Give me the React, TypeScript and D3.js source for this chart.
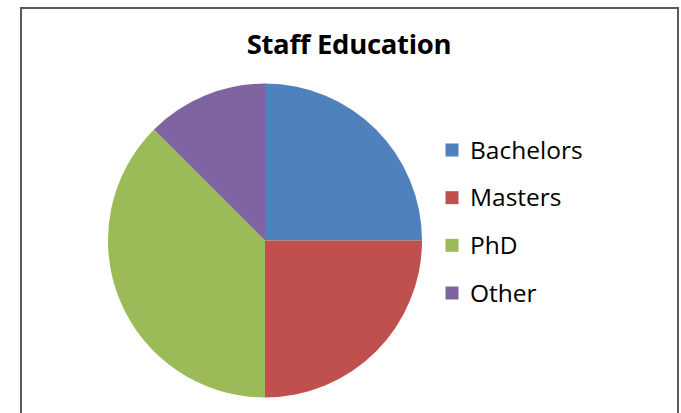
import React from "react";
import * as d3 from "d3";

const categories = ["Bachelors", "Masters", "PhD", "Other"];
const values = [2, 2, 3, 1];
const colors = ["#4F81BD", "#C0504D", "#9BBB59", "#8064A2"];
const title = "Staff Education";

export default function App() {
  const W = 681, H = 413;
  const cx = 265, cy = 240.5, r = 157;
  const pie = d3.pie<number>().sort(null).value((d) => d)(values);
  const arc = d3.arc<d3.PieArcDatum<number>>().innerRadius(0).outerRadius(r);
  const legendY = d3.scalePoint<string>().domain(categories).range([150, 293]);
  return (
    <svg width={W} height={H} style={{ position: "absolute", left: 0, top: 0 }}>
      <rect x={0} y={0} width={W} height={H} fill="#fff" />
      <rect x={21} y={8} width={657} height={420} fill="#fff" stroke="#5a5a5a" strokeWidth={2} />
      <text x={349} y={53.5} textAnchor="middle" fontFamily="'Open Sans', sans-serif" fontWeight="bold" fontSize={27.5} fill="#000" letterSpacing={-0.3}>
        {title}
      </text>
      <g transform={`translate(${cx},${cy})`}>
        {pie.map((p, i) => (
          <path key={i} d={arc(p) || ""} fill={colors[i]} />
        ))}
      </g>
      {categories.map((c, i) => (
        <g key={c} transform={`translate(0,${legendY(c)})`}>
          <rect x={445.5} y={-6.5} width={13} height={13} fill={colors[i]} />
          <text x={470} y={0} dy="0.36em" fontFamily="'Open Sans', sans-serif" fontSize={24.5} fill="#000">
            {c}
          </text>
        </g>
      ))}
    </svg>
  );
}
